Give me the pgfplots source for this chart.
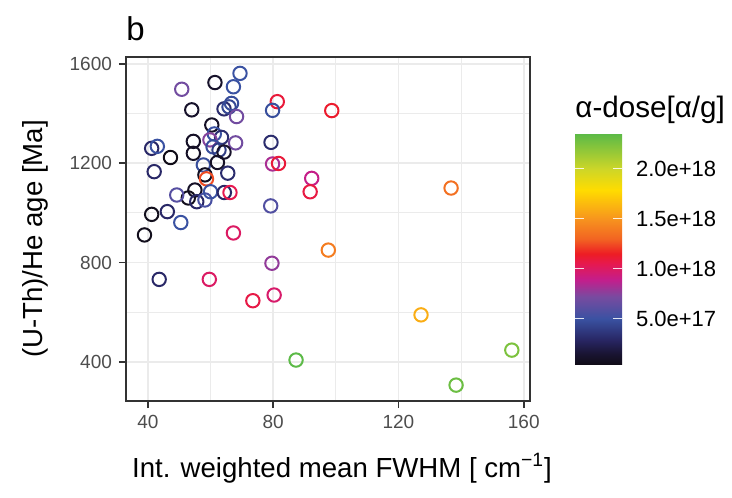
\documentclass[border=0pt]{standalone}
\usepackage{fontspec}
\setmainfont{Liberation Sans}
\usepackage{pgfplots}
\pgfplotsset{compat=1.18}

\definecolor{grey92}{HTML}{EBEBEB}
\definecolor{grey20}{HTML}{333333}
\definecolor{grey30}{HTML}{4D4D4D}

% x = FWHM, y = age, m = alpha dose in 1e17 alpha/g
\pgfplotstableread{
x y m
69.4 1562 5.0
67.3 1508 5.0
61.4 1525 1.2
50.8 1498 7.0
64.3 1419 3.2
66.7 1441 4.8
65.9 1427 4.5
68.3 1388 7.0
54.0 1415 1.2
60.4 1354 1.0
61.2 1318 5.0
63.5 1304 3.3
59.8 1294 7.5
68.0 1282 7.0
54.5 1288 1.0
54.5 1240 1.0
60.8 1266 4.8
62.7 1253 4.0
64.3 1245 1.2
41.2 1260 3.0
43.0 1268 5.0
47.2 1223 0.4
42.0 1166 3.0
57.7 1193 4.8
62.2 1203 1.0
58.2 1153 0.8
58.7 1137 12.5
65.5 1160 3.2
55.0 1092 1.0
52.9 1060 0.6
49.2 1072 6.0
55.6 1045 3.0
58.2 1052 5.5
60.0 1085 5.0
64.4 1082 3.0
66.2 1082 10.5
41.2 994 0.6
46.2 1005 3.0
50.5 961 5.0
38.9 911 0.6
67.3 919 10.0
43.6 732 3.0
59.6 732 10.0
81.3 1448 11.0
79.8 1413 4.8
98.7 1412 11.3
79.3 1284 3.2
79.8 1197 8.3
81.7 1199 11.0
92.3 1139 9.0
91.8 1085 10.8
79.2 1028 5.8
97.6 850 14.0
79.6 797 7.8
80.3 669 9.8
73.5 646 10.7
87.3 407 23.5
127.2 589 16.0
156.2 447 22.5
138.4 306 23.0
136.8 1100 13.5
}\dosedata

\begin{document}
\begin{tikzpicture}
\path[use as bounding box] (-63pt,-48pt) rectangle (303pt,200.5pt);
\begin{axis}[
    at={(0,0)}, anchor=south west,
    width=202pt, height=172pt, scale only axis,
    xmin=33, xmax=162, ymin=242, ymax=1628,
    xtick={40,80,120,160}, minor xtick={60,100,140},
    ytick={400,800,1200,1600}, minor ytick={600,1000,1400},
    grid=both,
    major grid style={line width=0.95pt, color=grey92},
    minor grid style={line width=0.5pt, color=grey92},
    axis line style={grey20, line width=1pt},
    tick style={grey20, line width=0.9pt},
    tick align=outside, tick pos=left,
    major tick length=3.5pt, minor tick length=0pt,
    ticklabel style={font=\fontsize{9.5}{10}\selectfont, text=grey30},
    /pgf/number format/assume math mode=true,
    /pgf/number format/1000 sep={},
    xlabel={Int. weighted mean FWHM [ cm\textsuperscript{−1}]},
    ylabel={(U-Th)/He age [Ma]},
    label style={font=\fontsize{13.8}{15}\selectfont},
    xlabel style={at={(axis description cs:0.5,0)}, anchor=center, yshift=-33.5pt, xshift=7pt},
    ylabel style={at={(axis description cs:-0.2252,0.471)}, anchor=center},
    title={b},
    title style={at={(axis description cs:0,1)}, anchor=base west, inner sep=0pt,
        yshift=2.3pt, font=\fontsize{16.5}{18}\selectfont},
    colormap={dose}{
        rgb255(3.7pt)=(16,12,22)
        rgb255(15pt)=(25,20,50)
        rgb255(29pt)=(40,38,100)
        rgb255(50pt)=(58,82,162)
        rgb255(72pt)=(120,75,160)
        rgb255(89pt)=(195,30,140)
        rgb255(105pt)=(230,25,80)
        rgb255(115pt)=(237,28,36)
        rgb255(130pt)=(242,100,34)
        rgb255(150pt)=(247,148,30)
        rgb255(179pt)=(255,220,0)
        rgb255(200pt)=(205,214,40)
        rgb255(235pt)=(92,186,71)
    },
    point meta=explicit,
    point meta min=0.37, point meta max=23.5,
    colorbar,
    colorbar/width=23.5pt,
    colorbar style={
        at={(1.1114,0.1047)}, anchor=south west,
        height=115.5pt, scale only axis,
        axis line style={draw=none},
        ytick={5,10,15,20},
        yticklabels={5.0e+17,1.0e+18,1.5e+18,2.0e+18},
        ytick pos=both, yticklabel pos=right,
        tick align=inside, major tick length=4.7pt,
        ytick style={white, opacity=0.85, line width=0.5pt},
        yticklabel style={font=\fontsize{11}{12}\selectfont, text=black, xshift=3.5pt},
        title={α-dose[α/g]},
        title style={at={(0,1)}, anchor=base west, inner sep=0pt, yshift=2pt,
            font=\fontsize{14.8}{16}\selectfont},
    },
]
\addplot[scatter, only marks, mark=o, mark size=3.35pt,
    mark options={line width=1pt},
    scatter/use mapped color={draw=mapped color, fill=none}]
    table[x=x, y=y, meta=m] {\dosedata};
\end{axis}
\end{tikzpicture}
\end{document}
